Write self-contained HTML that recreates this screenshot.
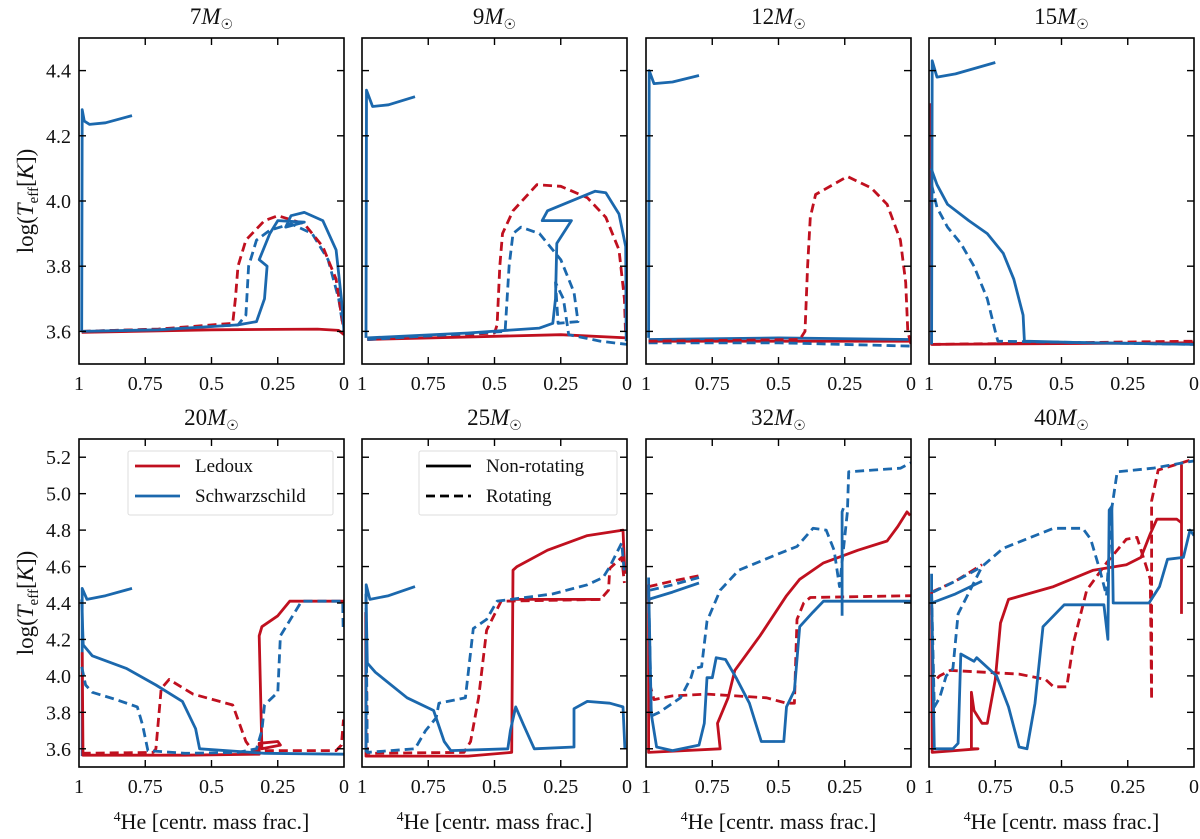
<!DOCTYPE html>
<html><head><meta charset="utf-8"><style>
body{margin:0;background:#fff;}
svg{display:block;font-family:"Liberation Serif",serif;}
</style></head><body>
<svg id="fig" width="1200" height="839" viewBox="0 0 1200 839" xmlns="http://www.w3.org/2000/svg"></svg>
<script>
// ---- data (x = central 4He mass fraction, y = log Teff) ----
const masses = ["7","9","12","15","20","25","32","40"];
const xTicks = [1,0.75,0.5,0.25,0];
const xTickLabels = ["1","0.75","0.5","0.25","0"];
const yTicksTop = [3.6,3.8,4.0,4.2,4.4];
const yTicksBottom = [3.6,3.8,4.0,4.2,4.4,4.6,4.8,5.0,5.2];

const m7_ms = [[0.99,3.6],[0.988,4.28],[0.98,4.245],[0.96,4.235],[0.9,4.24],[0.8,4.262]];
const m7_blueSolid = [[0.99,3.6],[0.7,3.605],[0.4,3.62],[0.33,3.63],[0.3,3.7],[0.29,3.8],[0.32,3.82],[0.28,3.9],[0.25,3.94],[0.15,3.935],[0.22,3.92],[0.2,3.955],[0.15,3.965],[0.08,3.94],[0.03,3.85],[0.01,3.7],[0,3.6]];
const m7_blueDash = [[0.99,3.6],[0.7,3.607],[0.4,3.62],[0.37,3.65],[0.36,3.8],[0.33,3.88],[0.28,3.91],[0.2,3.93],[0.12,3.9],[0.06,3.82],[0.02,3.7],[0.005,3.62]];
const m7_redDash = [[0.99,3.6],[0.7,3.607],[0.42,3.625],[0.41,3.7],[0.4,3.8],[0.37,3.88],[0.3,3.94],[0.25,3.955],[0.15,3.93],[0.08,3.86],[0.03,3.76],[0.01,3.65],[0,3.6]];
const m7_redSolid = [[0.99,3.597],[0.5,3.605],[0.1,3.607],[0.02,3.603],[0,3.59]];

const m9_ms = [[0.985,3.58],[0.983,4.34],[0.96,4.29],[0.9,4.295],[0.8,4.32]];
const m9_blueSolid = [[0.98,3.58],[0.6,3.595],[0.33,3.61],[0.28,3.625],[0.27,3.7],[0.265,3.87],[0.21,3.94],[0.32,3.94],[0.3,3.97],[0.12,4.03],[0.08,4.025],[0.03,3.96],[0.005,3.86],[0.003,3.57]];
const m9_blueDash = [[0.98,3.575],[0.46,3.6],[0.445,3.8],[0.43,3.9],[0.4,3.92],[0.33,3.9],[0.25,3.82],[0.2,3.72],[0.185,3.63],[0.26,3.625],[0.27,3.75],[0.24,3.7],[0.22,3.59],[0.1,3.57],[0,3.56]];
const m9_redDash = [[0.98,3.575],[0.5,3.595],[0.49,3.62],[0.48,3.8],[0.47,3.9],[0.43,3.97],[0.34,4.05],[0.25,4.045],[0.15,4.01],[0.08,3.95],[0.03,3.85],[0.01,3.7],[0.005,3.58]];
const m9_redSolid = [[0.98,3.575],[0.5,3.585],[0.25,3.59],[0,3.58]];

const m12_ms = [[0.99,3.58],[0.988,4.4],[0.97,4.36],[0.9,4.365],[0.8,4.385]];
const m12_blueSolid = [[0.99,3.575],[0.5,3.58],[0,3.575]];
const m12_blueDash = [[0.99,3.565],[0.5,3.565],[0,3.555]];
const m12_redSolid = [[0.99,3.57],[0,3.57]];
const m12_redDash = [[0.99,3.57],[0.42,3.575],[0.4,3.6],[0.39,3.8],[0.38,3.95],[0.36,4.02],[0.24,4.075],[0.15,4.04],[0.09,3.99],[0.04,3.88],[0.02,3.75],[0.012,3.6],[0,3.56]];

const m15_ms = [[0.99,3.56],[0.988,4.43],[0.97,4.38],[0.9,4.39],[0.75,4.425]];
const m15_blueSolid = [[0.992,4.1],[0.97,4.05],[0.93,3.99],[0.85,3.94],[0.78,3.9],[0.72,3.84],[0.68,3.76],[0.645,3.65],[0.64,3.57],[0.4,3.565],[0,3.56]];
const m15_blueDash = [[0.99,4.05],[0.97,3.98],[0.93,3.92],[0.88,3.87],[0.83,3.8],[0.78,3.7],[0.75,3.6],[0.74,3.57],[0,3.56]];
const m15_redSolid = [[0.992,4.3],[0.99,3.56],[0,3.565]];
const m15_redDash = [[0.99,3.56],[0,3.57]];

const m20_ms = [[0.988,3.56],[0.988,4.48],[0.97,4.42],[0.9,4.44],[0.8,4.48]];
const m20_blueSolid = [[0.99,4.42],[0.984,4.17],[0.95,4.11],[0.82,4.04],[0.71,3.95],[0.61,3.86],[0.56,3.71],[0.545,3.6],[0.3,3.575],[0,3.57]];
const m20_blueDash = [[0.99,4.05],[0.975,3.95],[0.95,3.91],[0.86,3.87],[0.78,3.83],[0.76,3.73],[0.74,3.59],[0.6,3.575],[0.4,3.58],[0.33,3.6],[0.31,3.7],[0.3,3.84],[0.25,3.91],[0.24,4.22],[0.16,4.41],[0.005,4.41],[0.003,4.25]];
const m20_redSolid = [[0.988,4.13],[0.985,3.565],[0.6,3.565],[0.32,3.57],[0.32,3.63],[0.25,3.64],[0.24,3.62],[0.31,3.6],[0.32,4.22],[0.31,4.27],[0.25,4.33],[0.205,4.41],[0,4.41]];
const m20_redDash = [[0.99,3.575],[0.72,3.58],[0.71,3.6],[0.69,3.93],[0.66,3.98],[0.57,3.9],[0.42,3.84],[0.37,3.64],[0.345,3.59],[0.03,3.59],[0.01,3.62],[0.002,3.76]];

const m25_ms = [[0.985,3.58],[0.984,4.5],[0.97,4.42],[0.9,4.44],[0.8,4.49]];
const m25_blueSolid = [[0.985,4.45],[0.98,4.07],[0.95,4.02],[0.83,3.88],[0.73,3.81],[0.69,3.64],[0.665,3.59],[0.45,3.6],[0.44,3.7],[0.42,3.83],[0.39,3.73],[0.35,3.6],[0.2,3.61],[0.2,3.82],[0.15,3.86],[0.065,3.85],[0.015,3.83],[0.008,3.6]];
const m25_blueDash = [[0.985,4.45],[0.98,3.58],[0.8,3.6],[0.76,3.7],[0.72,3.77],[0.71,3.85],[0.61,3.88],[0.58,4.26],[0.53,4.31],[0.49,4.41],[0.28,4.45],[0.15,4.5],[0.09,4.54],[0.065,4.6],[0.02,4.73],[0.01,4.56]];
const m25_redSolid = [[0.986,4.35],[0.985,3.56],[0.6,3.56],[0.435,3.58],[0.43,4.58],[0.415,4.6],[0.3,4.69],[0.15,4.77],[0.015,4.8],[0.008,4.56]];
const m25_redFlat = [[0.43,4.42],[0.1,4.42]];
const m25_redDash = [[0.985,4.3],[0.98,3.575],[0.615,3.58],[0.59,3.64],[0.56,3.88],[0.53,4.25],[0.475,4.41],[0.1,4.42],[0.07,4.47],[0.065,4.59],[0.02,4.65],[0.01,4.51]];

const m32_msSolid = [[0.99,4.54],[0.99,4.42],[0.9,4.46],[0.8,4.51]];
const m32_msBlueDash = [[0.985,4.47],[0.9,4.5],[0.8,4.54]];
const m32_msRedDash = [[0.99,4.49],[0.9,4.52],[0.8,4.55]];
const m32_blueSolid = [[0.99,4.5],[0.98,3.79],[0.96,3.61],[0.9,3.59],[0.8,3.62],[0.78,3.74],[0.77,3.99],[0.75,3.99],[0.735,4.1],[0.7,4.09],[0.66,3.99],[0.61,3.85],[0.565,3.64],[0.48,3.64],[0.47,3.83],[0.44,3.92],[0.42,4.27],[0.37,4.35],[0.33,4.41],[0,4.41]];
const m32_blueSpike = [[0.26,4.33],[0.26,4.9],[0.255,4.92]];
const m32_blueDash = [[0.99,4.47],[0.98,3.78],[0.95,3.8],[0.87,3.88],[0.83,3.99],[0.82,4.04],[0.79,4.05],[0.77,4.3],[0.72,4.47],[0.65,4.58],[0.5,4.67],[0.43,4.71],[0.37,4.81],[0.32,4.8],[0.29,4.69],[0.27,4.49],[0.24,4.9],[0.235,5.12],[0.14,5.13],[0.04,5.14],[0,5.17]];
const m32_redSolid = [[0.99,4.5],[0.99,3.58],[0.72,3.6],[0.73,3.74],[0.69,3.88],[0.665,4.03],[0.57,4.22],[0.47,4.44],[0.42,4.53],[0.33,4.62],[0.2,4.69],[0.09,4.74],[0.05,4.82],[0.015,4.9],[0.003,4.88]];
const m32_redDash = [[0.99,4.5],[0.985,3.95],[0.97,3.87],[0.9,3.89],[0.77,3.9],[0.545,3.88],[0.47,3.85],[0.44,3.85],[0.43,4.31],[0.405,4.4],[0.38,4.43],[0,4.44]];

const m40_msSolid = [[0.99,4.56],[0.99,4.4],[0.9,4.45],[0.8,4.52]];
const m40_msBlueDash = [[0.985,4.46],[0.9,4.52],[0.8,4.6]];
const m40_msRedDash = [[0.99,4.46],[0.9,4.52],[0.8,4.61]];
const m40_blueSolid = [[0.99,4.45],[0.98,3.6],[0.91,3.6],[0.89,3.63],[0.88,4.12],[0.83,4.08],[0.82,4.1],[0.745,4.0],[0.7,3.83],[0.66,3.61],[0.63,3.6],[0.6,3.85],[0.57,4.27],[0.49,4.39],[0.34,4.39],[0.325,4.2],[0.32,4.91],[0.31,4.93],[0.305,4.4],[0.17,4.4],[0.13,4.49],[0.1,4.64],[0.04,4.65],[0.015,4.8],[0,4.77]];
const m40_blueDash = [[0.99,4.45],[0.98,3.83],[0.96,3.88],[0.935,4.0],[0.91,4.04],[0.89,4.34],[0.8,4.6],[0.72,4.7],[0.53,4.81],[0.42,4.81],[0.39,4.75],[0.355,4.58],[0.33,4.44],[0.31,4.92],[0.29,5.12],[0.155,5.14],[0,5.18]];
const m40_redSolid = [[0.99,4.4],[0.988,3.58],[0.815,3.6],[0.84,3.6],[0.84,3.91],[0.83,3.81],[0.8,3.74],[0.78,3.74],[0.75,3.98],[0.73,4.29],[0.7,4.42],[0.53,4.49],[0.38,4.58],[0.255,4.61],[0.2,4.65],[0.165,4.78],[0.14,4.86],[0.065,4.86],[0.047,4.84]];
const m40_redSpike = [[0.047,5.16],[0.047,4.34]];
const m40_redDash = [[0.99,4.46],[0.988,3.96],[0.96,4.0],[0.92,4.03],[0.66,4.01],[0.56,3.98],[0.53,3.94],[0.48,3.94],[0.455,4.18],[0.405,4.47],[0.33,4.62],[0.255,4.75],[0.215,4.76],[0.165,4.53],[0.16,3.87],[0.16,4.96],[0.135,5.13],[0,5.19]];

const RED = "#c0101f", BLUE = "#1b68ad";
const panelSeries = [
  [[m7_ms,BLUE,0],[m7_blueDash,BLUE,1],[m7_redDash,RED,1],[m7_redSolid,RED,0],[m7_blueSolid,BLUE,0]],
  [[m9_ms,BLUE,0],[m9_redSolid,RED,0],[m9_redDash,RED,1],[m9_blueDash,BLUE,1],[m9_blueSolid,BLUE,0]],
  [[m12_ms,BLUE,0],[m12_redSolid,RED,0],[m12_blueSolid,BLUE,0],[m12_blueDash,BLUE,1],[m12_redDash,RED,1]],
  [[m15_redSolid,RED,0],[m15_redDash,RED,1],[m15_ms,BLUE,0],[m15_blueDash,BLUE,1],[m15_blueSolid,BLUE,0]],
  [[m20_ms,BLUE,0],[m20_redSolid,RED,0],[m20_redDash,RED,1],[m20_blueSolid,BLUE,0],[m20_blueDash,BLUE,1]],
  [[m25_redSolid,RED,0],[m25_redFlat,RED,0],[m25_redDash,RED,1],[m25_ms,BLUE,0],[m25_blueDash,BLUE,1],[m25_blueSolid,BLUE,0]],
  [[m32_msRedDash,RED,1],[m32_msBlueDash,BLUE,1],[m32_msSolid,BLUE,0],[m32_redSolid,RED,0],[m32_redDash,RED,1],[m32_blueDash,BLUE,1],[m32_blueSolid,BLUE,0],[m32_blueSpike,BLUE,0]],
  [[m40_msRedDash,RED,1],[m40_msBlueDash,BLUE,1],[m40_msSolid,BLUE,0],[m40_redDash,RED,1],[m40_redSolid,RED,0],[m40_redSpike,RED,0],[m40_blueDash,BLUE,1],[m40_blueSolid,BLUE,0]]
];

// ---- layout ----
const NS = "http://www.w3.org/2000/svg";
const svg = document.getElementById("fig");
const lefts = [79,362,646,929], W = 265;
const rows = [{top:38,bot:364,ymin:3.5,ymax:4.5,ticks:yTicksTop},{top:439,bot:767,ymin:3.5,ymax:5.3,ticks:yTicksBottom}];
function mk(tag, attrs, parent){const e=document.createElementNS(NS,tag);for(const k in attrs)e.setAttribute(k,attrs[k]);(parent||svg).appendChild(e);return e;}

for(let p=0;p<8;p++){
  const r = rows[p<4?0:1], L = lefts[p%4];
  const xs = v => L + (1-v)*W;
  const ys = v => r.bot - (v-r.ymin)/(r.ymax-r.ymin)*(r.bot-r.top);
  const g = mk("g",{});
  
  
  const cid = "clip"+p;
  const cp = mk("clipPath",{id:cid},g); mk("rect",{x:L,y:r.top,width:W,height:r.bot-r.top},cp);
  const lines = mk("g",{"clip-path":"url(#"+cid+")"},g);
  panelSeries[p].forEach((s,i)=>{
    const d = s[0].map((pt,j)=>(j?"L":"M")+xs(pt[0]).toFixed(1)+" "+ys(pt[1]).toFixed(1)).join(" ");
    const path = mk("path",{d:d,fill:"none",stroke:s[1],"stroke-width":2.8,"stroke-linejoin":"round","stroke-dasharray":s[2]?"9 5":"none"},lines);
    
    
  });
  const fr = mk("rect",{x:L,y:r.top,width:W,height:r.bot-r.top,fill:"none",stroke:"#000","stroke-width":1.6},g);
  
  
  xTicks.forEach((t,i)=>{
    const x = xs(t);
    if(t>0 && t<1){mk("line",{x1:x,x2:x,y1:r.bot,y2:r.bot-7,stroke:"#000","stroke-width":1.4},g);mk("line",{x1:x,x2:x,y1:r.top,y2:r.top+7,stroke:"#000","stroke-width":1.4},g);}
    const tx = mk("text",{x:x,y:r.bot+26,"font-size":20,"text-anchor":"middle",fill:"#111"},g);
    tx.textContent = xTickLabels[i];
    
    
  });
  r.ticks.forEach(t=>{
    const y = ys(t);
    mk("line",{x1:L,x2:L+7,y1:y,y2:y,stroke:"#000","stroke-width":1.4},g);
    mk("line",{x1:L+W,x2:L+W-7,y1:y,y2:y,stroke:"#000","stroke-width":1.4},g);
    if(p%4===0){
      const ty = mk("text",{x:L-8,y:y+7,"font-size":20,"text-anchor":"end",fill:"#111"},g);
      ty.textContent = t.toFixed(1);
      
      
    }
  });
  const tt = mk("text",{x:L+W/2,y:r.top-14,"font-size":23,"text-anchor":"middle",fill:"#111"},g);
  tt.innerHTML = masses[p]+'<tspan font-style="italic">M</tspan><tspan font-size="14" dy="5">☉</tspan>';
  
  
  if(p>=4){
    const xl = mk("text",{x:L+W/2,y:829,"font-size":22,"text-anchor":"middle",fill:"#111"},g);
    xl.innerHTML = '<tspan font-size="14" dy="-8">4</tspan><tspan dy="8">He [centr. mass frac.]</tspan>';
    
    
  }
  if(p%4===0){
    const cy=(r.top+r.bot)/2;
    const yl = mk("text",{x:0,y:0,"font-size":23,"text-anchor":"middle",fill:"#111",transform:"translate(33,"+cy+") rotate(-90)"},g);
    yl.innerHTML = 'log(<tspan font-style="italic">T</tspan><tspan font-size="15" dy="5">eff</tspan><tspan dy="-5">[</tspan><tspan font-style="italic">K</tspan>])';
    
    
  }
}

function legend(x,y,w,h,entries,name){
  const g = mk("g",{});
  
  
  mk("rect",{x:x,y:y,width:w,height:h,fill:"#fff",stroke:"#ddd","stroke-width":1,rx:2},g);
  entries.forEach((e,i)=>{
    const ly = y+15+i*30;
    const eg = mk("g",{},g);
    
    
    mk("line",{x1:x+7,x2:x+52,y1:ly,y2:ly,stroke:e[1],"stroke-width":2.8,"stroke-dasharray":e[2]?"9 5":"none"},eg);
    const t = mk("text",{x:x+67,y:ly+6,"font-size":19,fill:"#111"},eg);
    t.textContent = e[0];
  });
}
legend(128,451,205,64,[["Ledoux",RED,0],["Schwarzschild",BLUE,0]],'legend-convection');
legend(419,451,198,64,[["Non-rotating","#000",0],["Rotating","#000",1]],'legend-rotation');
</script>
</body></html>
